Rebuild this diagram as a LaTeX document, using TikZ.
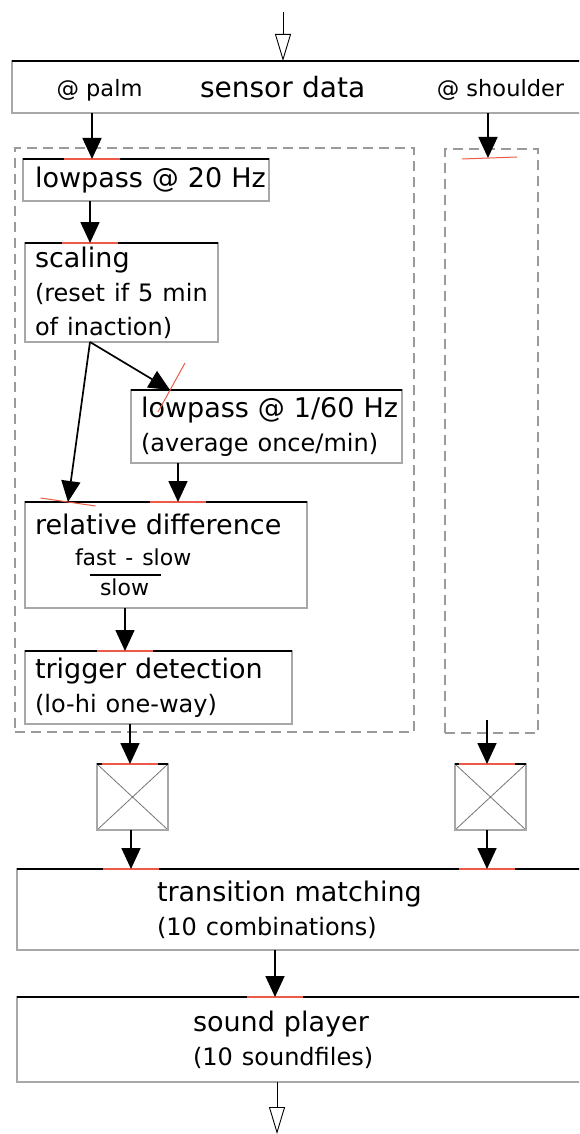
\documentclass[tikz,border=0pt]{standalone}
\usepackage{fontspec}
\setmainfont{DejaVu Sans}
\usepackage{tikz}
\usetikzlibrary{arrows.meta,positioning,calc}
\definecolor{inletred}{HTML}{EE5A48}
\definecolor{boxgray}{HTML}{A8A8A8}
\definecolor{dashgray}{HTML}{9A9A9A}
\newcommand{\titlefont}{\fontsize{27}{34}\selectfont}
\newcommand{\subfont}{\fontsize{24}{34}\selectfont}
\newcommand{\fracfont}{\fontsize{22}{34}\selectfont}
\newcommand{\tagfont}{\fontsize{22.5}{28}\selectfont}

\begin{document}
\begin{tikzpicture}[
  x=1pt, y=-1pt,
  pdbox/.style={draw=boxgray, line width=1.3pt, fill=white, anchor=north west, outer sep=0pt,
                inner ysep=0pt, inner xsep=10pt, align=left, font=\titlefont},
  xbox/.style={draw=boxgray, line width=1.3pt, fill=white, anchor=north west, outer sep=0pt,
               inner sep=0pt, minimum width=71pt, minimum height=66pt,
               path picture={\draw[boxgray!70!black, line width=0.8pt]
                 (path picture bounding box.north west) -- (path picture bounding box.south east)
                 (path picture bounding box.north east) -- (path picture bounding box.south west);}},
  grp/.style={draw=dashgray, line width=1.2pt, dash pattern=on 10pt off 6pt, anchor=north west,
              outer sep=0pt, inner sep=0pt},
  topline/.style={line width=1.6pt, black},
  inlet/.style={line width=2.4pt, inletred},
  tiltinlet/.style={line width=1pt, inletred},
  arr/.style={-{Triangle[length=21pt,width=19pt]}, line width=1.7pt},
  hollow/.style={-{Triangle[length=27pt,width=16pt,fill=white]}, line width=0.9pt}
]
  \path[use as bounding box, clip] (0,0) rectangle (579,1134);

  % groups (palm / shoulder)
  \node[grp, minimum width=399pt, minimum height=584pt] (palmgrp) at (15,148) {};
  \node[grp, minimum width=93pt, minimum height=584pt] (shgrp) at (445,149) {};

  % input
  \node[pdbox, minimum height=52pt, inner xsep=188pt, text width=212pt,
        font=\fontsize{28}{34}\selectfont] (snsr) at (12,61) {sensor data};
  \node[font=\tagfont] (palm) at (99.5,90) {@ palm};
  \node[font=\tagfont] (shoulder) at (500.5,90) {@ shoulder};

  % palm chain
  \node[pdbox, minimum height=42pt, inner xsep=12pt, text width=222pt] (lp20) at (23,159) {lowpass~@~20~Hz};
  \node[pdbox, minimum height=99pt, text width=173pt] (scal) at (25,243)
    {scaling\\{\subfont (reset if 5 min}\\{\subfont of inaction)}};
  \node[pdbox, minimum height=73pt, text width=251pt] (lp60) at (131,390)
    {lowpass~@~1/60~Hz\\{\subfont (average once/min)}};
  \node[pdbox, minimum height=106pt, text width=262pt] (rdif) at (25,502)
    {relative difference\\[-3pt]
     \hspace*{40pt}{\fracfont fast - slow}\\[-24pt]
     \hspace*{55pt}\rule{71pt}{1.4pt}\\[-14pt]
     \hspace*{65pt}{\fracfont slow}};
  \node[pdbox, minimum height=73pt, text width=247pt] (trig) at (25,651)
    {trigger detection\\{\subfont (lo-hi one-way)}};

  % gates
  \node[xbox] (xl) at (97,764) {};
  \node[xbox] (xr) at (455,764) {};

  % output chain
  \node[pdbox, minimum height=81pt, inner xsep=140pt, text width=300pt] (trans) at (17,869)
    {transition matching\\{\subfont (10 combinations)}};
  \node[pdbox, minimum height=85pt, inner xsep=176pt, text width=240pt] (sound) at (17,997)
    {sound player\\{\subfont (10 soundfiles)}};

  % inlets
  \coordinate (in) at (283,12);
  \coordinate (out) at (277,1134);
  \coordinate (lp20-in) at ($(lp20.north west)+(69,0)$);
  \coordinate (shgrp-in) at ($(shgrp.north west)+(43,9)$);
  \coordinate (scal-in) at ($(scal.north west)+(65,0)$);
  \coordinate (lp60-in) at ($(lp60.north west)+(39,0)$);
  \coordinate (rdif-in1) at ($(rdif.north west)+(43,0)$);
  \coordinate (rdif-in2) at ($(rdif.north west)+(153,0)$);
  \coordinate (trig-in) at ($(trig.north west)+(100,0)$);
  \coordinate (xl-in) at ($(xl.north west)+(33,0)$);
  \coordinate (xr-in) at ($(xr.north west)+(32,0)$);
  \coordinate (trans-in1) at ($(trans.north west)+(114,0)$);
  \coordinate (trans-in2) at ($(trans.north west)+(470,0)$);
  \coordinate (sound-in) at ($(sound.north west)+(258,0)$);
  \coordinate (sh-out) at ($(shgrp.south -| xr-in)+(0,-13)$);

  \foreach \n in {snsr,lp20,scal,lp60,rdif,trig,xl,xr,trans,sound}
    \draw[topline] (\n.north west) -- (\n.north east);
  \foreach \c in {lp20-in,scal-in,rdif-in2,trig-in,xl-in,xr-in,trans-in1,trans-in2,sound-in}
    \draw[inlet] ($(\c)+(-28,0)$) -- ($(\c)+(28,0)$);
  \draw[tiltinlet] ($(rdif-in1)+(-27.5,-4)$) -- ($(rdif-in1)+(27.5,4)$);
  \draw[tiltinlet] ($(lp60-in)+(-12,22)$) -- ($(lp60-in)+(15,-27)$);
  \draw[tiltinlet] ($(shgrp-in)+(-26,1)$) -- ($(shgrp-in)+(29,-1)$);

  % connections
  \draw[hollow] (in) -- (in |- snsr.north);
  \draw[arr] (snsr.south -| lp20-in) -- (lp20-in);
  \draw[arr] (snsr.south -| shgrp-in) -- (shgrp-in);
  \draw[arr] (lp20.south -| scal-in) -- (scal-in);
  \draw[arr] (scal.south -| scal-in) -- (lp60-in);
  \draw[arr] (scal.south -| scal-in) -- (rdif-in1);
  \draw[arr] (lp60.south -| rdif-in2) -- (rdif-in2);
  \draw[arr] (rdif.south -| trig-in) -- (trig-in);
  \draw[arr] (trig.south -| xl-in) -- (xl-in);
  \draw[arr] (sh-out) -- (xr-in);
  \draw[arr] (xl.south -| trans-in1) -- (trans-in1);
  \draw[arr] (xr.south -| trans-in2) -- (trans-in2);
  \draw[arr] (trans.south -| sound-in) -- (sound-in);
  \draw[hollow] (sound.south -| out) -- (out);
\end{tikzpicture}
\end{document}
